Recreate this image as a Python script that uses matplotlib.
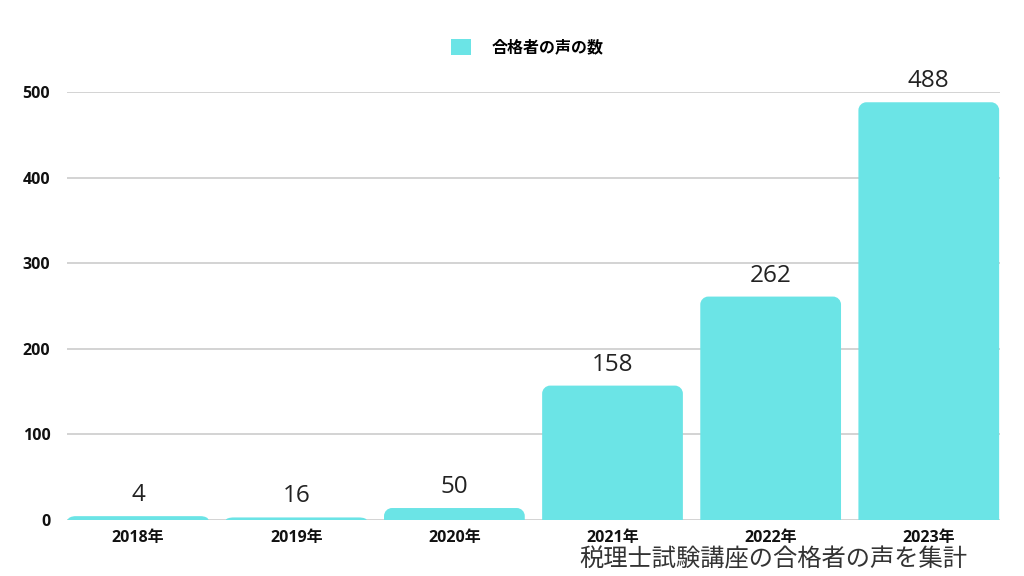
import matplotlib
matplotlib.use("Agg")
import matplotlib.pyplot as plt
from matplotlib.patches import Rectangle, PathPatch
from matplotlib.path import Path

categories = ["2018年", "2019年", "2020年", "2021年", "2022年", "2023年"]
bar_values = [4.5, 3, 14, 157, 261, 488]
label_texts = ["4", "16", "50", "158", "262", "488"]
legend_label = "合格者の声の数"
y_ticks = [0, 100, 200, 300, 400, 500]
caption = "税理士試験講座の合格者の声を集計"

COLOR = "#6be4e6"
FONT = ["Open Sans", "Noto Sans CJK JP", "DejaVu Sans"]
CJK = ["Noto Sans CJK JP", "DejaVu Sans"]
plt.rcParams["font.family"] = CJK

fig = plt.figure(figsize=(10.24, 5.76), dpi=100)
ax = fig.add_axes([0.0654, 0.0972, 0.9111, 0.7431])
ax.set_xlim(-0.45, 5.45)
ax.set_ylim(0, 500)

width = 0.89
bars = ax.bar(range(len(categories)), bar_values, width=width, color=COLOR, zorder=2)

# rounded-top bars built from the bar geometry
px_per_x = ax.get_position().width * 1024 / 5.9
px_per_y = ax.get_position().height * 576 / 500
r_px = 8
K = 0.5523
for b in bars:
    b.set_visible(False)
    x0, w, h = b.get_x(), b.get_width(), b.get_height()
    x1 = x0 + w
    rx = r_px / px_per_x
    ry = min(r_px / px_per_y, h)
    verts = [
        (x0, 0), (x0, h - ry),
        (x0, h - ry + K * ry), (x0 + rx - K * rx, h), (x0 + rx, h),
        (x1 - rx, h),
        (x1 - rx + K * rx, h), (x1, h - ry + K * ry), (x1, h - ry),
        (x1, 0), (x0, 0),
    ]
    codes = [Path.MOVETO, Path.LINETO,
             Path.CURVE4, Path.CURVE4, Path.CURVE4,
             Path.LINETO,
             Path.CURVE4, Path.CURVE4, Path.CURVE4,
             Path.LINETO, Path.CLOSEPOLY]
    ax.add_patch(PathPatch(Path(verts, codes), facecolor=COLOR, edgecolor="none", zorder=2))

for i, (v, t) in enumerate(zip(bar_values, label_texts)):
    ax.annotate(t, (i, v), xytext=(0, 6.5), textcoords="offset points",
                ha="center", va="bottom", fontsize=17.5, color="#222222", family=FONT)

ax.set_yticks(y_ticks)
ax.set_yticklabels([str(t) for t in y_ticks], fontsize=11.5, fontweight="bold",
                   color="#111111", family=FONT)
ax.set_xticks(range(len(categories)))
ax.set_xticklabels(categories, fontsize=11.5, fontweight="bold", color="#111111", family=FONT)
ax.tick_params(axis="both", length=0)
ax.tick_params(axis="x", pad=7)
ax.tick_params(axis="y", pad=12)
ax.grid(axis="y", color="#c8c8c8", linewidth=1.1, zorder=0)
ax.set_axisbelow(True)
for s in ax.spines.values():
    s.set_visible(False)

handle = Rectangle((0, 0), 1, 1, facecolor=COLOR, edgecolor="none")
fig.legend([handle], [legend_label], loc="center", bbox_to_anchor=(0.515, 0.918),
           frameon=False, handlelength=1.2, handleheight=1.2, handletextpad=1.3,
           prop={"family": CJK, "weight": "bold", "size": 11.5})

fig.text(0.945, 0.028, caption, ha="right", va="center", fontsize=17.5, color="#333333", family=CJK)

fig.savefig("out.png", dpi=100)
